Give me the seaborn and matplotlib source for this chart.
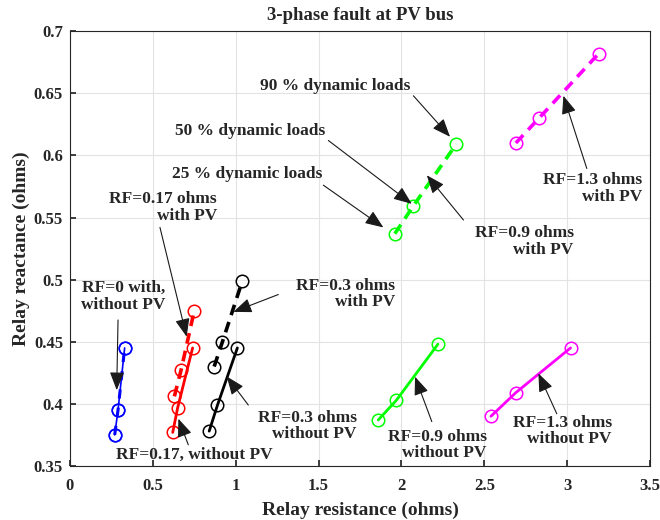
import matplotlib
matplotlib.use("Agg")
import matplotlib.pyplot as plt
import seaborn as sns
import pandas as pd

# ---- data ----
rf0_x = [0.27, 0.29, 0.33]
rf0_y = [0.375, 0.395, 0.445]

rf017_nopv_x = [0.62, 0.65, 0.74]
rf017_nopv_y = [0.377, 0.397, 0.445]
rf017_pv_x = [0.63, 0.67, 0.75]
rf017_pv_y = [0.406, 0.427, 0.475]

rf03_nopv_x = [0.84, 0.89, 1.01]
rf03_nopv_y = [0.378, 0.399, 0.445]
rf03_pv_x = [0.87, 0.92, 1.04]
rf03_pv_y = [0.430, 0.450, 0.499]

rf09_nopv_x = [1.86, 1.97, 2.22]
rf09_nopv_y = [0.387, 0.403, 0.448]
rf09_pv_x = [1.96, 2.07, 2.33]
rf09_pv_y = [0.537, 0.559, 0.609]

rf13_nopv_x = [2.54, 2.69, 3.02]
rf13_nopv_y = [0.390, 0.409, 0.445]
rf13_pv_x = [2.69, 2.83, 3.19]
rf13_pv_y = [0.610, 0.630, 0.682]

x_ticks = [0, 0.5, 1, 1.5, 2, 2.5, 3, 3.5]
x_ticklabels = ["0", "0.5", "1", "1.5", "2", "2.5", "3", "3.5"]
y_ticks = [0.35, 0.4, 0.45, 0.5, 0.55, 0.6, 0.65, 0.7]
y_ticklabels = ["0.35", "0.4", "0.45", "0.5", "0.55", "0.6", "0.65", "0.7"]

title = "3-phase fault at PV bus"
xlabel = "Relay resistance (ohms)"
ylabel = "Relay reactance (ohms)"

# ---- style ----
sns.set_theme(style="whitegrid")
plt.rcParams["font.family"] = ["Liberation Serif", "DejaVu Serif"]
plt.rcParams["font.weight"] = "bold"

fig = plt.figure(figsize=(6.6, 5.2), dpi=100)
ax = fig.add_axes([0.106, 0.104, 0.879, 0.836])

series = [
    (rf0_x, rf0_y, "#0000ff", "-", 1.2),
    (rf0_x, rf0_y, "#0000ff", (0, (3, 3)), 2.2),
    (rf017_nopv_x, rf017_nopv_y, "#ff0000", "-", 2.0),
    (rf017_pv_x, rf017_pv_y, "#ff0000", (0, (3, 2)), 2.6),
    (rf03_nopv_x, rf03_nopv_y, "#000000", "-", 2.0),
    (rf03_pv_x, rf03_pv_y, "#000000", (0, (3, 2)), 2.6),
    (rf09_nopv_x, rf09_nopv_y, "#00ff00", "-", 2.0),
    (rf09_pv_x, rf09_pv_y, "#00ff00", (0, (3, 2)), 2.6),
    (rf13_nopv_x, rf13_nopv_y, "#ff00ff", "-", 2.0),
    (rf13_pv_x, rf13_pv_y, "#ff00ff", (0, (3, 2)), 2.6),
]
for xs, ys, c, ls, lw in series:
    df = pd.DataFrame({"x": xs, "y": ys})
    sns.lineplot(data=df, x="x", y="y", ax=ax, color=c, linestyle=ls, linewidth=lw,
                 marker="o", markersize=9, markerfacecolor="none",
                 markeredgecolor=c, markeredgewidth=1.1, sort=False)

ax.set_xlim(0, 3.5)
ax.set_ylim(0.35, 0.7)
ax.set_xticks(x_ticks)
ax.set_xticklabels(x_ticklabels)
ax.set_yticks(y_ticks)
ax.set_yticklabels(y_ticklabels)
ax.tick_params(axis="both", labelsize=12, colors="#262626", length=4, direction="in",
               bottom=True, left=True)
ax.tick_params(axis="x", pad=9)
ax.tick_params(axis="y", pad=5)
for lab in ax.get_xticklabels() + ax.get_yticklabels():
    lab.set_fontweight("bold")
ax.grid(True, color="#e3e3e3", linewidth=0.8)
for s in ax.spines.values():
    s.set_color("#262626")
    s.set_linewidth(0.8)

ax.set_title(title, fontsize=13.5, fontweight="bold", color="#262626", pad=8)
ax.set_xlabel(xlabel, fontsize=14, fontweight="bold", color="#262626", labelpad=5)
ax.set_ylabel(ylabel, fontsize=14, fontweight="bold", color="#262626", labelpad=3)

# ---- annotations (text position, arrow tail, arrow head) ----
notes = [
    ("RF=0 with,\nwithout PV", (0.573, 0.4864), (0.29, 0.4675), (0.282, 0.411)),
    ("RF=0.17 ohms\nwith PV", (0.887, 0.558), (0.543, 0.542), (0.704, 0.454)),
    ("RF=0.3 ohms\nwith PV", (1.961, 0.4884), (1.257, 0.488), (0.986, 0.474)),
    ("RF=0.3 ohms\nwithout PV", (1.730, 0.3822), (1.076, 0.399), (0.946, 0.422)),
    ("RF=0.17, without PV", (1.225, 0.3588), (0.714, 0.367), (0.654, 0.388)),
    ("25 % dynamic loads", (1.521, 0.585), (1.529, 0.576), (1.891, 0.542)),
    ("50 % dynamic loads", (1.539, 0.6195), (1.559, 0.612), (2.062, 0.561)),
    ("90 % dynamic loads", (2.052, 0.6557), (2.072, 0.648), (2.293, 0.615)),
    ("RF=0.9 ohms\nwith PV", (3.038, 0.5306), (2.374, 0.548), (2.153, 0.584)),
    ("RF=1.3 ohms\nwith PV", (3.450, 0.5732), (3.118, 0.5895), (2.977, 0.648)),
    ("RF=0.9 ohms\nwithout PV", (2.515, 0.3669), (2.183, 0.3857), (2.082, 0.4218)),
    ("RF=1.3 ohms\nwithout PV", (3.269, 0.3782), (2.937, 0.392), (2.826, 0.4245)),
]
for txt, tpos, tail, head in notes:
    ax.text(tpos[0], tpos[1], txt, ha="right", va="center", multialignment="right",
            fontsize=12.5, fontweight="bold", color="#262626", linespacing=1.05)
    ax.annotate("", xy=head, xytext=tail,
                arrowprops=dict(arrowstyle="-|>,head_length=0.8,head_width=0.32",
                                mutation_scale=14, color="#1a1a1a", lw=0.8,
                                shrinkA=0, shrinkB=0))

fig.savefig("out.png", dpi=100)
